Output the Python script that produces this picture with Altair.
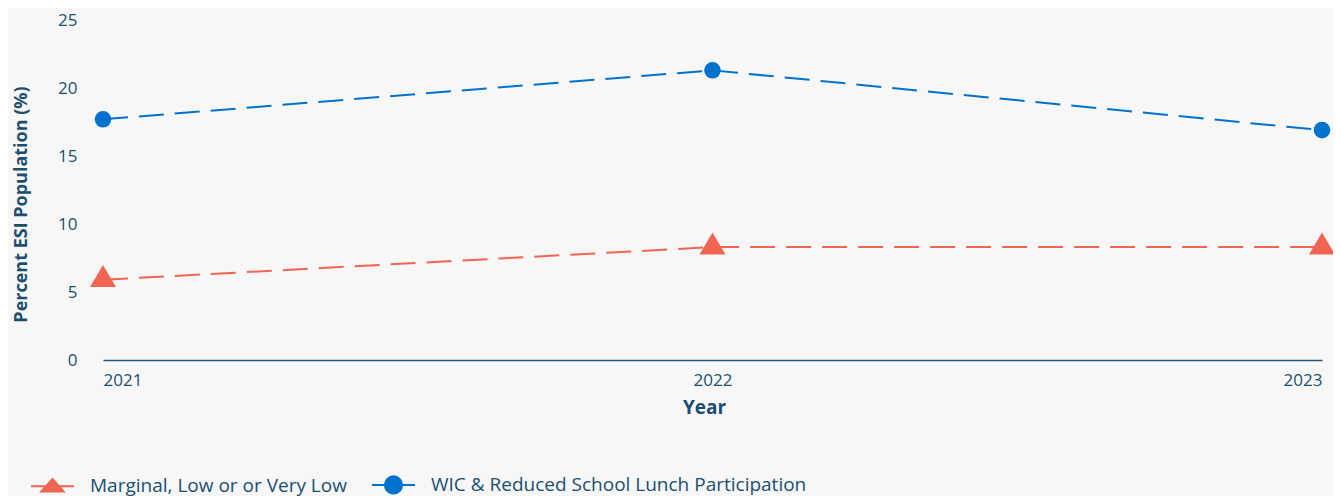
import altair as alt
import pandas as pd

years = [2021, 2022, 2023]
series_names = ["Marginal, Low or or Very Low", "WIC & Reduced School Lunch Participation"]
marginal = [5.9, 8.3, 8.3]
wic = [17.7, 21.3, 16.9]
y_ticks = [0, 5, 10, 15, 20, 25]

rows = []
for yr, v in zip(years, marginal):
    rows.append({"Year": str(yr), "value": v, "series": series_names[0]})
for yr, v in zip(years, wic):
    rows.append({"Year": str(yr), "value": v, "series": series_names[1]})
df = pd.DataFrame(rows)

RED = "#F26452"
BLUE = "#0072CE"
TEXT = "#1b4f72"
AXIS = "#1f5582"
FONT = "Open Sans"

TRI = "M0,-1.13L1,0.56L-1,0.56Z"
LEG_TRI = "M-1,0H1M0,-0.34L0.52,0.24L-0.52,0.24Z"
LEG_CIR = "M-1,0H1M0.4,0A0.4,0.4,0,1,1,-0.4,0A0.4,0.4,0,1,1,0.4,0Z"

col_scale = alt.Scale(domain=series_names, range=[RED, BLUE])

align_expr = "datum.value == '2021' ? 'left' : (datum.value == '2023' ? 'right' : 'center')"

x_enc = alt.X("Year:O",
              scale=alt.Scale(type="point", domain=[str(y) for y in years], padding=0),
              axis=alt.Axis(title="Year", labelAngle=0, titleX=601,
                            labelOverlap=False, labelAlign=alt.ExprRef(align_expr),
                            grid=False, ticks=False, domain=True, domainColor=AXIS,
                            domainWidth=1.5, labelPadding=12, titlePadding=10,
                            labelFontSize=17, titleFontSize=19, titleFontWeight="bold",
                            labelColor=TEXT, titleColor=TEXT, labelFont=FONT, titleFont=FONT))
y_enc = alt.Y("value:Q",
              scale=alt.Scale(domain=[0, 25], nice=False),
              axis=alt.Axis(values=y_ticks, title="Percent ESI Population (%)",
                            grid=False, ticks=False, domain=False, labelPadding=26,
                            titlePadding=27, titleY=184, labelFontSize=17, titleFontSize=18,
                            titleFontWeight="bold", labelColor=TEXT, titleColor=TEXT,
                            labelFont=FONT, titleFont=FONT))

shape_sig = "datum.value == '%s' ? '%s' : '%s'" % (series_names[0], LEG_TRI, LEG_CIR)
stroke_sig = "datum.value == '%s' ? '%s' : '%s'" % (series_names[0], RED, BLUE)


def series_line(name, colour):
    return alt.Chart(df).transform_filter(alt.datum.series == name).mark_line(
        strokeWidth=2, strokeDash=[25, 11], color=colour
    ).encode(x=x_enc, y=y_enc)


line_red = series_line(series_names[0], RED)
line_blue = series_line(series_names[1], BLUE)

tri_pts = alt.Chart(df).transform_filter(
    alt.datum.series == series_names[0]
).mark_point(filled=True, opacity=1, shape=TRI, size=676, color=RED).encode(x=x_enc, y=y_enc)

cir_pts = alt.Chart(df).transform_filter(
    alt.datum.series == series_names[1]
).mark_point(filled=True, opacity=1, shape="circle", size=275, color=BLUE).encode(x=x_enc, y=y_enc)

leg = alt.Chart(df).transform_filter("false").mark_point(filled=True).encode(
    x=x_enc, y=y_enc,
    color=alt.Color("series:N", scale=col_scale, legend=alt.Legend(
        title=None,
        symbolType=alt.ExprRef(shape_sig),
        symbolStrokeColor=alt.ExprRef(stroke_sig),
    )),
)

chart = alt.layer(line_red, line_blue, tri_pts, cir_pts, leg).properties(
    width=1219, height=340,
    autosize=alt.AutoSizeParams(type="none"),
    padding={"left": 95, "top": 12, "right": 11, "bottom": 136},
    background="#f7f7f7",
).configure_view(stroke=None).configure_legend(
    orient="none", legendX=-73, legendY=442, direction="horizontal",
    symbolSize=1849, symbolStrokeWidth=2, symbolOpacity=1,
    labelFontSize=19, labelColor=TEXT, labelFont=FONT, labelLimit=600,
    labelOffset=15, columnPadding=21,
)

chart.save("out.html", embed_options={"renderer": "svg", "actions": False})
